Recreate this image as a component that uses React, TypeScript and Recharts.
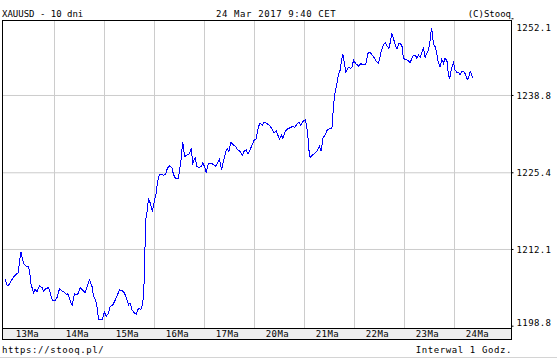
import { LineChart, Line, XAxis, YAxis, CartesianGrid } from 'recharts'

const dayLabels = ['13Ma', '14Ma', '15Ma', '16Ma', '17Ma', '20Ma', '21Ma', '22Ma', '23Ma', '24Ma']

// hours counted from the start of the 13Ma session (one gridline per session)
const hours = [
  0.3, 1.4, 2.4, 3.6, 4.7, 5.6, 6.7, 7.1, 7.9, 8.4, 9.1, 10.4, 11.4, 12.0, 12.7, 13.9, 14.7, 15.6, 16.8, 18.0,
  18.7, 19.9, 21.1, 21.9, 23.0, 24.3, 25.4, 26.4, 27.6, 28.7, 29.6, 30.4, 31.2, 31.9, 32.6, 33.5, 34.4, 35.4, 36.3, 37.4,
  38.7, 39.8, 40.8, 42.0, 42.7, 43.7, 44.4, 45.1, 45.9, 46.9, 47.9, 48.8, 49.8, 50.7, 52.0, 53.1, 54.2, 55.2, 56.4, 57.5,
  58.4, 59.5, 60.3, 61.2, 62.3, 63.2, 64.3, 65.5, 66.4, 67.1, 67.5, 67.9, 68.4, 69.1, 69.9, 71.0, 71.9, 72.8, 73.4, 74.3,
  75.2, 76.3, 77.3, 78.2, 79.2, 80.4, 81.1, 82.1, 83.4, 84.3, 85.0, 85.4, 85.9, 86.4, 87.6, 88.7, 89.6, 90.4, 91.5, 92.4,
  93.5, 94.4, 95.2, 96.0, 96.8, 97.9, 99.1, 100.3, 101.3, 102.2, 103.2, 104.2, 105.1, 106.3, 107.0, 107.7, 108.7, 109.6, 110.9, 111.8,
  113.1, 114.1, 115.1, 116.0, 116.8, 117.9, 119.0, 119.9, 120.8, 121.9, 122.7, 123.7, 124.7, 126.0, 127.2, 128.4, 129.5, 130.4, 131.0, 132.0,
  133.0, 133.6, 134.7, 135.8, 137.1, 138.1, 139.4, 140.4, 141.3, 142.3, 143.2, 144.5, 145.5, 146.1, 146.7, 148.0, 149.1, 149.9, 151.2, 152.0,
  152.8, 153.9, 155.0, 156.0, 157.2, 157.9, 158.6, 159.6, 160.3, 161.1, 161.9, 162.4, 163.1, 163.9, 164.4, 165.1, 166.3, 166.9, 167.5, 168.7,
  169.9, 171.1, 172.3, 173.5, 174.4, 175.5, 176.5, 177.5, 178.4, 179.4, 180.0, 180.8, 181.9, 182.9, 183.8, 184.5, 185.1, 185.9, 186.7, 187.5,
  188.4, 189.1, 189.9, 190.8, 191.5, 192.8, 193.9, 194.7, 196.0, 197.1, 197.9, 198.7, 199.5, 200.5, 201.1, 201.9, 202.8, 203.5, 204.3, 204.9,
  205.4, 205.9, 206.7, 207.5, 208.2, 209.1, 209.9, 210.7, 211.5, 212.4, 212.8, 213.6, 214.4, 215.5, 216.3, 217.2, 217.9, 218.7, 219.6, 220.3,
  221.1, 222.0, 222.7, 223.5, 224.2, 224.8,
]

const prices = [
  1206.9, 1205.8, 1206.1, 1206.9, 1207.5, 1207.8, 1208.1, 1209.9, 1211.7, 1210.8, 1209.7, 1209.2, 1209.1, 1208.4, 1206.2, 1204.6, 1205.2, 1204.8, 1205.8, 1205.5,
  1204.9, 1205.3, 1205.5, 1204.6, 1203.2, 1203.3, 1203.9, 1205.3, 1204.9, 1204.7, 1204.3, 1204.4, 1203.6, 1202.8, 1202.5, 1204.4, 1204.2, 1204.5, 1205.5, 1205.1,
  1204.6, 1205.8, 1206.8, 1205.7, 1204.0, 1203.3, 1202.2, 1200.0, 1199.9, 1199.9, 1201.3, 1200.5, 1201.0, 1202.2, 1202.5, 1203.3, 1204.2, 1205.1, 1205.0, 1204.6,
  1203.8, 1202.5, 1202.8, 1201.6, 1201.1, 1200.9, 1201.9, 1201.7, 1202.8, 1206.8, 1213.4, 1217.5, 1218.6, 1220.8, 1220.2, 1218.7, 1220.5, 1221.9, 1223.6, 1225.1,
  1225.2, 1225.0, 1225.1, 1226.2, 1226.6, 1226.2, 1225.1, 1224.4, 1224.4, 1226.5, 1228.2, 1230.7, 1230.0, 1228.2, 1228.5, 1228.7, 1229.6, 1227.1, 1228.0, 1226.5,
  1226.3, 1226.5, 1227.1, 1226.5, 1225.4, 1227.0, 1227.1, 1226.8, 1226.5, 1227.1, 1227.8, 1225.9, 1227.4, 1229.1, 1229.6, 1229.1, 1230.7, 1230.3, 1230.0, 1229.4,
  1229.1, 1228.4, 1229.2, 1229.4, 1228.7, 1229.4, 1230.4, 1231.1, 1231.3, 1233.4, 1234.0, 1233.6, 1234.2, 1233.9, 1233.6, 1233.0, 1232.3, 1232.7, 1232.1, 1231.3,
  1231.9, 1231.3, 1232.6, 1233.0, 1233.2, 1233.4, 1233.3, 1233.9, 1234.2, 1233.6, 1234.3, 1234.6, 1232.3, 1229.4, 1228.1, 1228.5, 1228.8, 1229.1, 1230.0, 1229.1,
  1231.4, 1232.0, 1232.9, 1233.0, 1233.2, 1236.9, 1239.2, 1240.9, 1242.4, 1243.2, 1245.1, 1246.0, 1244.4, 1242.8, 1243.2, 1243.7, 1243.5, 1243.8, 1244.9, 1244.3,
  1243.9, 1244.3, 1244.1, 1244.3, 1246.1, 1246.3, 1245.8, 1245.3, 1244.7, 1244.4, 1245.1, 1246.4, 1247.6, 1247.9, 1247.3, 1247.0, 1247.9, 1249.5, 1248.7, 1247.6,
  1246.8, 1247.7, 1247.9, 1247.3, 1245.2, 1245.0, 1244.8, 1244.5, 1245.6, 1245.8, 1245.3, 1245.8, 1245.4, 1246.4, 1247.0, 1245.4, 1246.2, 1246.7, 1248.4, 1250.5,
  1249.6, 1247.6, 1247.3, 1246.1, 1244.5, 1243.8, 1245.1, 1244.4, 1245.3, 1244.7, 1243.2, 1241.6, 1243.2, 1244.5, 1243.2, 1242.8, 1242.8, 1242.4, 1243.0, 1243.0,
  1242.6, 1241.6, 1241.8, 1243.0, 1242.4, 1241.8,
]

const priceTicks = [1198.8, 1212.1, 1225.4, 1238.8, 1252.1]
const priceDomain = [1198.4, 1251.8]
const hourDomain = [-0.96, 243.36]

const data = hours.map((t, i) => ({ t, price: prices[i] }))
const dayStarts = dayLabels.slice(1).map((_, i) => (i + 1) * 24)
const dayMids = dayLabels.map((_, i) => i * 24 + 11)
const innerPriceTicks = priceTicks.slice(1, -1)

const FONT = '"DejaVu Sans Mono", monospace'

const EmptyTick = () => <g />

function DayTick({ x, y, payload }: any) {
  const label = dayLabels[Math.floor(payload.value / 24)]
  return (
    <text x={x} y={y + 8.5} textAnchor="middle" fontFamily={FONT} fontSize={9} letterSpacing={0.4} fill="#000">
      {label}
    </text>
  )
}

function PriceTick({ x, y, payload }: any) {
  // the outer labels sit inside the frame, the others are centred on their gridline
  let dy = 3.3
  if (payload.value === priceTicks[priceTicks.length - 1]) dy = 12.2
  if (payload.value === priceTicks[0]) dy = 0.1
  return (
    <text x={x} y={y + dy} textAnchor="start" fontFamily={FONT} fontSize={9} letterSpacing={0.4} fill="#000">
      {payload.value.toFixed(1)}
    </text>
  )
}

export default function App() {
  return (
    <div style={{ position: 'absolute', left: 0, top: 0, width: 557, height: 359, background: '#fff' }}>
      <style>{'.recharts-line-curve{shape-rendering:crispEdges}'}</style>
      <svg width={557} height={359} style={{ position: 'absolute', left: 0, top: 0 }}>
        <rect x={2} y={328} width={510} height={12} fill="#eeeeee" />
        <line x1={0} x2={557} y1={357.5} y2={357.5} stroke="#d4d4d4" />
        <text x={2} y={17} fontFamily={FONT} fontSize={9} fill="#000">XAUUSD - 10 dni</text>
        <text x={216} y={17} fontFamily={FONT} fontSize={9} letterSpacing={0.6} fill="#000">24 Mar 2017 9:40 CET</text>
        <text x={511} y={17} textAnchor="end" fontFamily={FONT} fontSize={9} fill="#000">(C)Stooq</text>
        <text x={2} y={353} fontFamily={FONT} fontSize={9} letterSpacing={0.6} fill="#000">https://stooq.pl/</text>
        <text x={512} y={353} textAnchor="end" fontFamily={FONT} fontSize={9} letterSpacing={0.6} fill="#000">Interwal 1 Godz.</text>
      </svg>
      <div style={{ position: 'absolute', left: 0, top: 0 }}>
        <LineChart width={557} height={359} data={data} margin={{ top: 20.5, right: 0, bottom: 19.5, left: 2.5 }}>
          <CartesianGrid
            stroke="#cccccc"
            verticalValues={dayStarts}
            horizontalValues={innerPriceTicks}
          />
          <XAxis
            type="number"
            dataKey="t"
            domain={hourDomain}
            allowDataOverflow
            ticks={dayStarts}
            interval={0}
            orientation="bottom"
            mirror
            height={0}
            axisLine={false}
            tickLine={{ stroke: '#000' }}
            tickSize={3}
            tick={EmptyTick}
          />
          <XAxis
            xAxisId="top"
            type="number"
            dataKey="t"
            domain={hourDomain}
            allowDataOverflow
            ticks={dayStarts}
            interval={0}
            orientation="top"
            mirror
            height={0}
            axisLine={false}
            tickLine={{ stroke: '#000' }}
            tickSize={3}
            tick={EmptyTick}
          />
          <XAxis
            xAxisId="days"
            type="number"
            dataKey="t"
            domain={hourDomain}
            allowDataOverflow
            ticks={dayMids}
            interval={0}
            orientation="bottom"
            height={11}
            axisLine={false}
            tickLine={false}
            tickSize={0}
            tickMargin={0}
            tick={DayTick}
          />
          <YAxis
            orientation="right"
            domain={priceDomain}
            allowDataOverflow
            ticks={priceTicks}
            interval={0}
            width={45.5}
            axisLine={false}
            tickLine={{ stroke: '#000' }}
            tickSize={2}
            tickMargin={3}
            tick={PriceTick}
          />
          <YAxis
            yAxisId="left"
            orientation="left"
            mirror
            domain={priceDomain}
            allowDataOverflow
            ticks={innerPriceTicks}
            interval={0}
            width={0}
            axisLine={false}
            tickLine={{ stroke: '#000' }}
            tickSize={3}
            tick={EmptyTick}
          />
          <Line
            type="linear"
            dataKey="price"
            stroke="#0000ff"
            strokeWidth={1}
            dot={false}
            activeDot={false}
            isAnimationActive={false}
          />
        </LineChart>
      </div>
      <svg width={557} height={359} style={{ position: 'absolute', left: 0, top: 0, pointerEvents: 'none' }}>
        <rect x={2.5} y={20.5} width={509} height={308} fill="none" stroke="#000" />
        <rect x={2.5} y={328.5} width={509} height={11} fill="none" stroke="#000" />
      </svg>
    </div>
  )
}
